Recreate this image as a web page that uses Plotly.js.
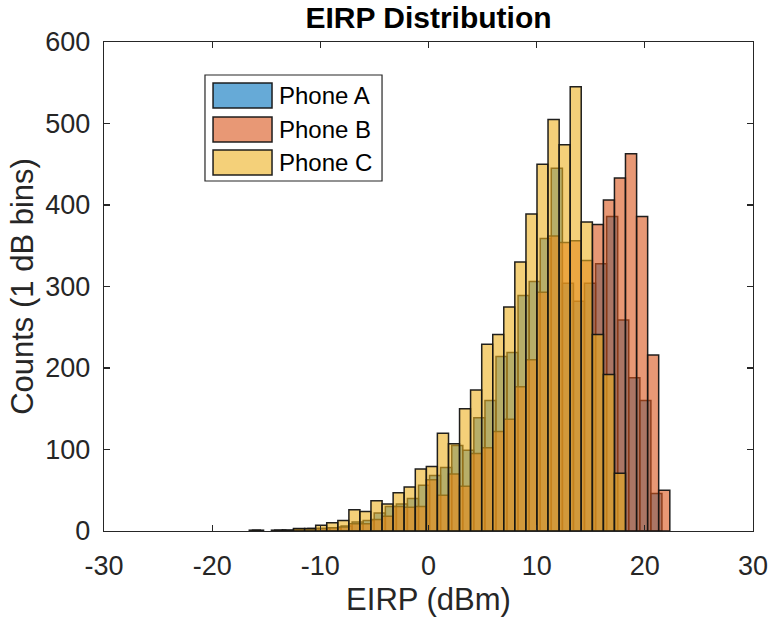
<!DOCTYPE html>
<html>
<head>
<meta charset="utf-8">
<script src="https://cdn.plot.ly/plotly-3.0.1.min.js"></script>
<style>html,body{margin:0;padding:0;background:#fff;}#chart{width:769px;height:623px;}</style>
</head>
<body>
<div id="chart"></div>
<script>
// ---- data ----
const seriesNames = ["Phone A", "Phone B", "Phone C"];
// bin edges (dB) for Phone B and Phone C
const edgesBC = [-16.57,-15.55,-14.52,-13.50,-12.48,-11.45,-10.43,-9.41,-8.38,-7.36,-6.34,-5.32,-4.29,-3.27,-2.25,-1.22,-0.20,0.82,1.85,2.87,3.89,4.92,5.94,6.96,7.98,9.01,10.03,11.05,12.08,13.10,14.12,15.15,16.17,17.19,18.21,19.24,20.26,21.28,22.31];
// bin edges (dB) for Phone A (slightly shifted)
const edgesA = [-16.27,-15.25,-14.22,-13.20,-12.18,-11.15,-10.13,-9.11,-8.08,-7.06,-6.04,-5.02,-3.99,-2.97,-1.95,-0.92,0.10,1.12,2.15,3.17,4.19,5.22,6.24,7.26,8.28,9.31,10.33,11.35,12.38,13.40,14.42,15.45,16.47,17.49,18.51,19.54,20.56,21.58,22.61];
const countsA = [1,0,1,0,2,3,3,4,6,11,13,22,30,33,40,56,68,78,105,99,139,160,214,219,289,306,359,445,304,282,304,328,386,259,188,160,46,0];
const countsB = [0,0,0,1,2,2,3,4,5,9,9,14,18,30,29,30,63,44,70,55,95,102,122,137,177,210,293,362,354,356,332,376,406,433,463,386,216,50];
const countsC = [1,0,1,1,3,3,7,10,13,26,24,37,33,47,54,76,79,120,107,150,173,229,241,275,330,389,450,505,474,545,379,241,192,71,0,0,0,0];
const xTickVals = [-30,-20,-10,0,10,20,30];
const xTickText = ["-30","-20","-10","0","10","20","30"];
const yTickVals = [0,100,200,300,400,500,600];
const yTickText = ["0","100","200","300","400","500","600"];

// ---- styles ----
const fills = ["rgba(0,114,189,0.6)", "rgba(217,83,25,0.6)", "rgba(237,177,32,0.6)"];
const edgeCol = "rgba(20,20,20,0.95)";
const FONT = "Liberation Sans, Arial, Helvetica, sans-serif";
const AX = "#262626";

function barTrace(edges, counts, i) {
  const x = [], w = [], y = [];
  for (let k = 0; k < counts.length; k++) {
    x.push((edges[k] + edges[k + 1]) / 2);
    w.push(edges[k + 1] - edges[k]);
    y.push(counts[k] === 0 ? null : counts[k]);
  }
  return {
    type: "bar", x: x, y: y, width: w, name: seriesNames[i],
    marker: {color: fills[i], line: {color: edgeCol, width: 1.5}},
    showlegend: false, hoverinfo: "x+y"
  };
}

const data = [
  barTrace(edgesA, countsA, 0),
  barTrace(edgesBC, countsB, 1),
  barTrace(edgesBC, countsC, 2)
];

// custom legend (box + swatches + labels) in paper coordinates
const legX0 = 0.1556, legX1 = 0.4284, legY0 = 0.7157, legY1 = 0.9325;
const swX0 = 0.1680, swX1 = 0.2589;
const swY = [[0.8650, 0.9162], [0.7955, 0.8466], [0.7280, 0.7791]];
const txtX = 0.2666;
const shapes = [{type: "rect", xref: "paper", yref: "paper", x0: legX0, x1: legX1, y0: legY0, y1: legY1,
  line: {color: AX, width: 1.2}, fillcolor: "#ffffff", layer: "above"}];
const annotations = [];
seriesNames.forEach((nm, i) => {
  shapes.push({type: "rect", xref: "paper", yref: "paper", x0: swX0, x1: swX1, y0: swY[i][0], y1: swY[i][1],
    line: {color: edgeCol, width: 1.5}, fillcolor: fills[i], layer: "above"});
  annotations.push({xref: "paper", yref: "paper", x: txtX, y: (swY[i][0] + swY[i][1]) / 2,
    xanchor: "left", yanchor: "middle", text: nm, showarrow: false,
    font: {family: FONT, size: 24, color: "#000"}});
});

const layout = {
  width: 769, height: 623,
  paper_bgcolor: "#fff", plot_bgcolor: "#fff",
  margin: {l: 104, r: 16, t: 42, b: 92, pad: 0},
  barmode: "overlay", bargap: 0,
  showlegend: false,
  title: {text: "<b>EIRP Distribution</b>", font: {family: FONT, size: 30, color: "#000"},
    x: 0.5, xref: "paper", y: 1 - 17 / 623, yref: "container", yanchor: "middle"},
  xaxis: {
    range: [-30, 30], tickmode: "array", tickvals: xTickVals, ticktext: xTickText,
    ticks: "inside", ticklen: 6, tickwidth: 1.2, tickcolor: AX,
    showline: true, linecolor: AX, linewidth: 1.2, mirror: "ticks",
    showgrid: false, zeroline: false, ticklabelstandoff: 10,
    tickfont: {family: FONT, size: 27, color: AX},
    title: {text: "EIRP (dBm)", font: {family: FONT, size: 31, color: AX}, standoff: 8}
  },
  yaxis: {
    range: [0, 600], tickmode: "array", tickvals: yTickVals, ticktext: yTickText,
    ticks: "inside", ticklen: 6, tickwidth: 1.2, tickcolor: AX,
    showline: true, linecolor: AX, linewidth: 1.2, mirror: "ticks",
    showgrid: false, zeroline: false, ticklabelstandoff: 7,
    tickfont: {family: FONT, size: 27, color: AX},
    title: {text: "Counts (1 dB bins)", font: {family: FONT, size: 31, color: AX}, standoff: 2}
  },
  shapes: shapes,
  annotations: annotations
};

Plotly.newPlot("chart", data, layout, {displayModeBar: false, staticPlot: true});
</script>
</body>
</html>
